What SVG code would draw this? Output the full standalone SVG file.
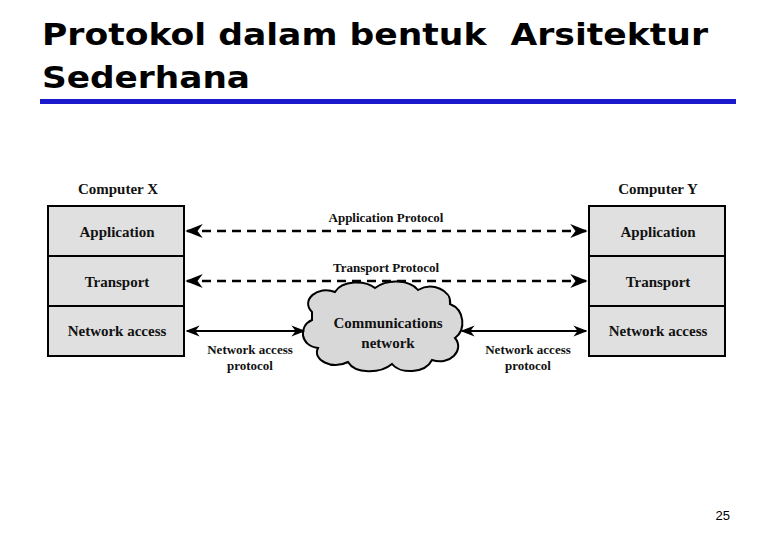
<svg xmlns="http://www.w3.org/2000/svg" width="780" height="540" viewBox="0 0 780 540">
<defs>
<style>
.t{font-family:"Liberation Serif",serif;font-weight:bold;fill:#111}
.box{fill:#e0e0e0;stroke:#000;stroke-width:2}
.dash{stroke:#000;stroke-width:2.5;stroke-dasharray:9,6;fill:none}
.sol{stroke:#000;stroke-width:2;fill:none}
</style>
<marker id="a" viewBox="0 0 10 10" refX="9" refY="5" markerWidth="7" markerHeight="7" orient="auto-start-reverse"><path d="M0,1 L10,5 L0,9 L3,5 Z" fill="#000"/></marker>
</defs>
<rect width="780" height="540" fill="#fff"/>
<g id="title">
<text x="42" y="45" font-family="DejaVu Sans,sans-serif" font-weight="bold" font-size="31" fill="#000" textLength="666" lengthAdjust="spacingAndGlyphs" xml:space="preserve">Protokol dalam bentuk  Arsitektur</text>
<text x="42" y="88" font-family="DejaVu Sans,sans-serif" font-weight="bold" font-size="31" fill="#000" textLength="208" lengthAdjust="spacingAndGlyphs">Sederhana</text>
<rect x="40" y="99" width="696" height="5" fill="#1a1acc"/>
</g>
<g id="computerX">
<text class="t" x="118" y="194" font-size="15" text-anchor="middle">Computer X</text>
<rect class="box" x="48" y="206" width="136" height="50"/>
<rect class="box" x="48" y="256" width="136" height="50"/>
<rect class="box" x="48" y="306" width="136" height="50"/>
<text class="t" x="117" y="237" font-size="15" text-anchor="middle">Application</text>
<text class="t" x="117" y="287" font-size="15" text-anchor="middle">Transport</text>
<text class="t" x="117" y="336" font-size="15" text-anchor="middle">Network access</text>
</g>
<g id="computerY">
<text class="t" x="658" y="194" font-size="15" text-anchor="middle">Computer Y</text>
<rect class="box" x="589" y="206" width="136" height="50"/>
<rect class="box" x="589" y="256" width="136" height="50"/>
<rect class="box" x="589" y="306" width="136" height="50"/>
<text class="t" x="658" y="237" font-size="15" text-anchor="middle">Application</text>
<text class="t" x="658" y="287" font-size="15" text-anchor="middle">Transport</text>
<text class="t" x="658" y="336" font-size="15" text-anchor="middle">Network access</text>
</g>
<g id="cloud">
<path d="M312,312 C300,300 318,285 335,292 C342,280 365,280 375,288 C388,278 410,280 418,290 C432,282 452,290 450,304 C465,310 466,330 455,338 C465,350 450,366 432,360 C425,374 400,374 392,364 C380,374 355,374 348,362 C332,370 312,360 318,348 C300,346 298,326 312,320 Z" fill="#d8d8d8" stroke="#000" stroke-width="2"/>
<text class="t" x="388" y="328" font-size="15" text-anchor="middle">Communications</text>
<text class="t" x="388" y="348" font-size="15" text-anchor="middle">network</text>
</g>
<g id="connectors">
<line class="dash" x1="187" y1="231" x2="586" y2="231" marker-start="url(#a)" marker-end="url(#a)"/>
<text class="t" x="386" y="222" font-size="13" text-anchor="middle">Application Protocol</text>
<line class="dash" x1="187" y1="281" x2="586" y2="281" marker-start="url(#a)" marker-end="url(#a)"/>
<text class="t" x="386" y="272" font-size="13" text-anchor="middle">Transport Protocol</text>
<line class="sol" x1="187" y1="331" x2="304" y2="331" marker-start="url(#a)" marker-end="url(#a)"/>
<line class="sol" x1="462" y1="331" x2="586" y2="331" marker-start="url(#a)" marker-end="url(#a)"/>
<text class="t" x="250" y="354" font-size="13" text-anchor="middle">Network access</text>
<text class="t" x="250" y="370" font-size="13" text-anchor="middle">protocol</text>
<text class="t" x="528" y="354" font-size="13" text-anchor="middle">Network access</text>
<text class="t" x="528" y="370" font-size="13" text-anchor="middle">protocol</text>
</g>
<text x="730" y="520" font-family="Liberation Sans,sans-serif" font-size="13" text-anchor="end" fill="#000">25</text>
</svg>
